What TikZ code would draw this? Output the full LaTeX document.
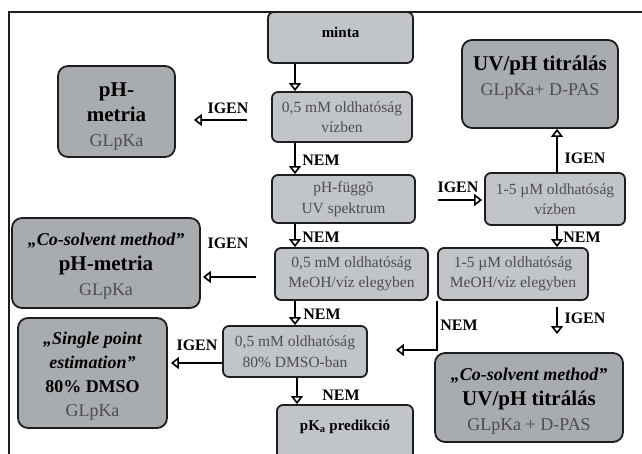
\documentclass[tikz,border=0pt]{standalone}
\usepackage{fontspec}
\setmainfont{Liberation Serif}
\usetikzlibrary{arrows.meta}
\definecolor{lightbox}{HTML}{C1C4C8}
\definecolor{darkbox}{HTML}{A8ABAF}
\definecolor{boxtext}{HTML}{4D4D4D}
\definecolor{edgecol}{HTML}{1E1E1E}
\newcommand{\bxt}[3]{\begin{minipage}[c][#2][c]{#1}\centering #3\end{minipage}}
\newcommand{\hdB}{\color{black}\bfseries\fontsize{21}{25}\selectfont}
\newcommand{\hdI}{\color{black}\bfseries\itshape\fontsize{18}{24}\selectfont}
\newcommand{\hdM}{\color{black}\bfseries\fontsize{18}{24}\selectfont}
\begin{document}
\begin{tikzpicture}[x=1pt,y=-1pt,
  smallbox/.style={draw=edgecol, line width=1.8pt, rounded corners=6pt, fill=lightbox, inner sep=0pt, text=boxtext, font=\fontsize{15.5}{20.5}\selectfont},
  bigbox/.style={draw=edgecol, line width=1.8pt, rounded corners=10pt, fill=darkbox, inner sep=0pt, text=boxtext, font=\fontsize{18}{25}\selectfont},
  lbl/.style={font=\bfseries\fontsize{16}{18}\selectfont, text=black, inner sep=0pt},
  arr/.style={draw=black, line width=2.4pt, -{Triangle[open, length=8pt, width=12pt, line width=1.6pt]}}]
\useasboundingbox (0,0) rectangle (642,454);
\clip (0,0) rectangle (642,454);
\fill[white] (0,0) rectangle (642,454);
\draw[line width=1.5pt, edgecol] (9,454) -- (9,12) -- (642,12);

% small boxes
\node[smallbox] (minta) at (340.5,37.5) {\bxt{145pt}{51pt}{{\color{black}\bfseries\fontsize{15}{18}\selectfont minta}\par\vspace*{11pt}}};
\node[smallbox] (v05) at (342,117) {\bxt{140pt}{50pt}{0,5 mM oldhatóság\\vízben}};
\node[smallbox] (phf) at (343.5,199) {\bxt{143pt}{48pt}{pH-függõ\\UV spektrum}};
\node[smallbox] (meoh) at (351.5,274) {\bxt{153pt}{52pt}{0,5 mM oldhatóság\\MeOH/víz elegyben}};
\node[smallbox] (dmso) at (295,351.5) {\bxt{144pt}{51pt}{0,5 mM oldhatóság\\80\% DMSO-ban}};
\node[smallbox] (pka) at (345,433) {\bxt{136pt}{56pt}{{\color{black}\bfseries\fontsize{15}{18}\selectfont pK\textsubscript{a} predikció}\par\vspace*{12pt}}};
\node[smallbox] (m15v) at (555,199) {\bxt{140pt}{52pt}{1-5 µM oldhatóság\\vízben}};
\node[smallbox] (m15m) at (513,274) {\bxt{150pt}{52pt}{1-5 µM oldhatóság\\MeOH/víz elegyben}};

% big boxes
\node[bigbox] (phm) at (116.5,111.5) {\bxt{117pt}{91pt}{\vspace*{10pt}{\hdB pH-}\\{\hdB metria}\\GLpKa}};
\node[bigbox] (cph) at (106,263) {\bxt{188pt}{90pt}{\vspace*{6pt}{\hdI „Co-solvent method”}\\{\hdB pH-metria}\\GLpKa}};
\node[bigbox, font=\fontsize{18}{24}\selectfont] (spe) at (92.5,373) {\bxt{149pt}{110pt}{\vspace*{6pt}{\hdI „Single point\\estimation”}\\{\hdM 80\% DMSO}\\GLpKa}};
\node[bigbox] (uvt) at (540,84) {\bxt{156pt}{88pt}{{\hdB UV/pH titrálás}\\GLpKa+ D-PAS\par\vspace*{12pt}}};
\node[bigbox] (cuv) at (529,397.5) {\bxt{188pt}{89pt}{\vspace*{8pt}{\hdI „Co-solvent method”}\\{\hdB UV/pH titrálás}\\GLpKa + D-PAS}};

% labels
\node[lbl] (l1) at (321,160) {NEM};
\node[lbl] (l2) at (321,237) {NEM};
\node[lbl] (l3) at (322,314) {NEM};
\node[lbl] (l4) at (341,395) {NEM};
\node[lbl] (l5) at (228,108) {IGEN};
\node[lbl] (l6) at (228,243) {IGEN};
\node[lbl] (l7) at (197,345) {IGEN};
\node[lbl] (l8) at (458,187) {IGEN};
\node[lbl] (l9) at (585,158) {IGEN};
\node[lbl] (l10) at (582,237) {NEM};
\node[lbl] (l11) at (585,318) {IGEN};
\node[lbl] (l12) at (459,325) {NEM};

% helper coordinates
\coordinate (xa) at (295,0);
\coordinate (xb) at (297,0);
\coordinate (xr) at (557,0);
\coordinate (ya) at (0,120);
\coordinate (yb) at (0,277);
\coordinate (yc) at (0,363);
\coordinate (yd) at (0,200);
\coordinate (ye) at (0,350);

% connectors
\draw[arr] (minta.south -| xa) -- (v05.north -| xa);
\draw[arr] (v05.south -| xa) -- (phf.north -| xa);
\draw[arr] (phf.south -| xa) -- (meoh.north -| xa);
\draw[arr] (meoh.south -| xa) -- (dmso.north -| xa);
\draw[arr] (dmso.south -| xb) -- (pka.north -| xb);
\draw[arr, shorten <=24pt, shorten >=18pt] (v05.west |- ya) -- (phm.east |- ya);
\draw[arr, shorten <=18pt, shorten >=2pt] (meoh.west |- yb) -- (cph.east |- yb);
\draw[arr, shorten >=3pt] (dmso.west |- yc) -- (spe.east |- yc);
\draw[arr, shorten <=22pt, shorten >=2pt] (phf.east |- yd) -- (m15v.west |- yd);
\draw[arr] (m15v.north -| xr) -- (uvt.south -| xr);
\draw[arr] (m15v.south -| xr) -- (m15m.north -| xr);
\draw[arr, shorten <=6pt, shorten >=18pt] (m15m.south -| xr) -- (cuv.north -| xr);
\draw[arr, shorten >=28pt] (m15m.south west) |- (dmso.east |- ye);
\end{tikzpicture}
\end{document}
